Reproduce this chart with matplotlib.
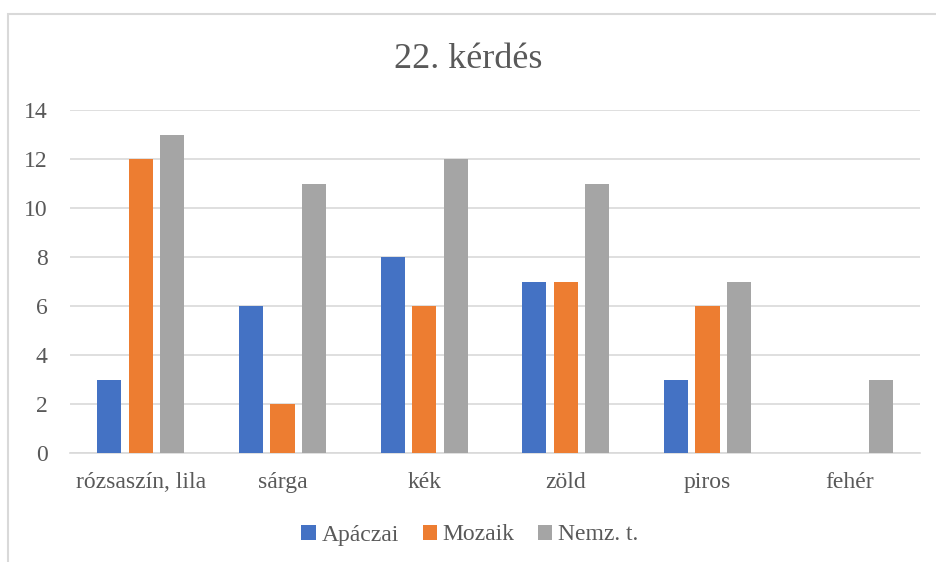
import matplotlib.pyplot as plt
import numpy as np
from matplotlib.patches import Rectangle

FONT = "Liberation Serif"

categories = ["rózsaszín, lila", "sárga", "kék", "zöld", "piros", "fehér"]
apaczai = [3, 6, 8, 7, 3, 0]
mozaik = [12, 2, 6, 7, 6, 0]
nemz = [13, 11, 12, 11, 7, 3]
series = [("Apáczai", apaczai, "#4472C4"),
          ("Mozaik", mozaik, "#ED7D31"),
          ("Nemz. t.", nemz, "#A5A5A5")]

text_color = "#595959"
grid_color = "#D9D9D9"

W, H = 936, 562
fig = plt.figure(figsize=(W / 100, H / 100), dpi=100)

# chart frame (only the left and top edges fall inside the image)
fig.patches.append(Rectangle((8 / W, -0.1), 1.1, 1 - 14 / H + 0.1,
                             transform=fig.transFigure, fill=False,
                             edgecolor=grid_color, linewidth=1.5))

ax = fig.add_axes([70 / W, 1 - 453 / H, 850 / W, 343 / H])

x = np.arange(len(categories))
width = 0.17
step = 0.222
for i, (name, vals, color) in enumerate(series):
    ax.bar(x + (i - 1) * step, vals, width, color=color, label=name, zorder=3)

ax.set_xlim(-0.5, len(categories) - 0.5)
ax.set_ylim(0, 14)
ax.set_yticks(range(0, 15, 2))
ax.set_xticks(x)
ax.set_xticklabels(categories)
ax.grid(axis="y", color=grid_color, linewidth=1.2, zorder=0)
for s in ["top", "right", "left"]:
    ax.spines[s].set_visible(False)
ax.spines["bottom"].set_color(grid_color)
ax.spines["bottom"].set_linewidth(1.2)
ax.tick_params(length=0, labelsize=17, colors=text_color)
ax.tick_params(axis="x", pad=14)
ax.tick_params(axis="y", pad=16)
for lbl in ax.get_xticklabels() + ax.get_yticklabels():
    lbl.set_family(FONT)

fig.text(0.5, 1 - 59 / H, "22. kérdés", ha="center", va="center",
         fontsize=26, color=text_color, family=FONT)

ax.legend(loc="center", bbox_to_anchor=(470 / W, 1 - 535 / H),
          bbox_transform=fig.transFigure, ncol=3, frameon=False,
          prop={"family": FONT, "size": 17}, labelcolor=text_color,
          handlelength=0.6, handleheight=0.6, handletextpad=0.25,
          columnspacing=1.0)

fig.savefig("out.png", dpi=100)
